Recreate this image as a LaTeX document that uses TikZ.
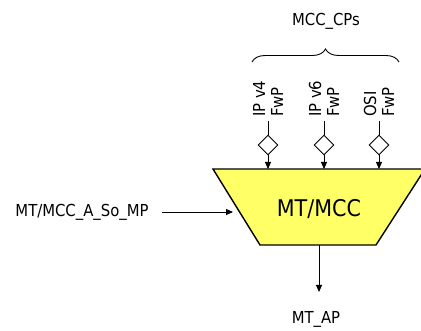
\documentclass[tikz,border=0pt]{standalone}
\usepackage{fontspec}
\setmainfont{DejaVu Sans Condensed}
\usetikzlibrary{shapes.geometric,arrows.meta,positioning,calc,decorations.pathreplacing}

\definecolor{blockyellow}{RGB}{255,255,102}

\tikzset{
    lbl/.style={font=\fontsize{16.5}{18}\selectfont, inner sep=0pt},
    gate/.style={draw, diamond, line width=0.9pt, inner sep=0pt, minimum width=20pt, minimum height=20pt},
    wire/.style={line width=0.9pt},
    flow/.style={wire, -{Triangle[length=7pt,width=6pt]}}
}

\begin{document}
\begin{tikzpicture}[x=1pt,y=-1pt]
    \useasboundingbox (0,0) rectangle (421,331);

    % Function block
    \draw[line width=1.4pt, fill=blockyellow] (213,169) -- (425,169) -- (376,245) -- (260,245) -- cycle;
    \node[font=\fontsize{23}{24}\selectfont] (mcc) at (319,209) {MT/MCC};
    \coordinate (blocktop) at (319,169);
    \coordinate (blockbot) at (319,245);

    % Control points
    \foreach \n/\x/\t in {1/268/IP v4, 2/324/IP v6, 3/379/OSI} {
        \node[lbl, rotate=90, anchor=west, align=left] (cp\n) at (\x,117) {\t\\FwP};
        \node[gate] (g\n) at (\x,145) {};
        \draw[wire, shorten <=4pt] (cp\n.west) -- (g\n.north);
        \draw[flow] (g\n.south) -- (g\n.south |- blocktop);
    }

    % Brace over the control points
    \draw[wire, decorate, decoration={brace, amplitude=13pt}] (252,62) -- (399,62);
    \node[lbl] (cps) at (326,21) {MCC\_CPs};

    % Management point
    \node[lbl] (mp) at (82,212) {MT/MCC\_A\_So\_MP};
    \coordinate (mpend) at (233,212);
    \draw[flow, shorten <=13pt] (mp.east) -- (mpend);

    % Access point
    \coordinate (apend) at (319,292);
    \draw[flow] (blockbot) -- (apend);
    \node[lbl] (ap) at (316,319) {MT\_AP};
\end{tikzpicture}
\end{document}
